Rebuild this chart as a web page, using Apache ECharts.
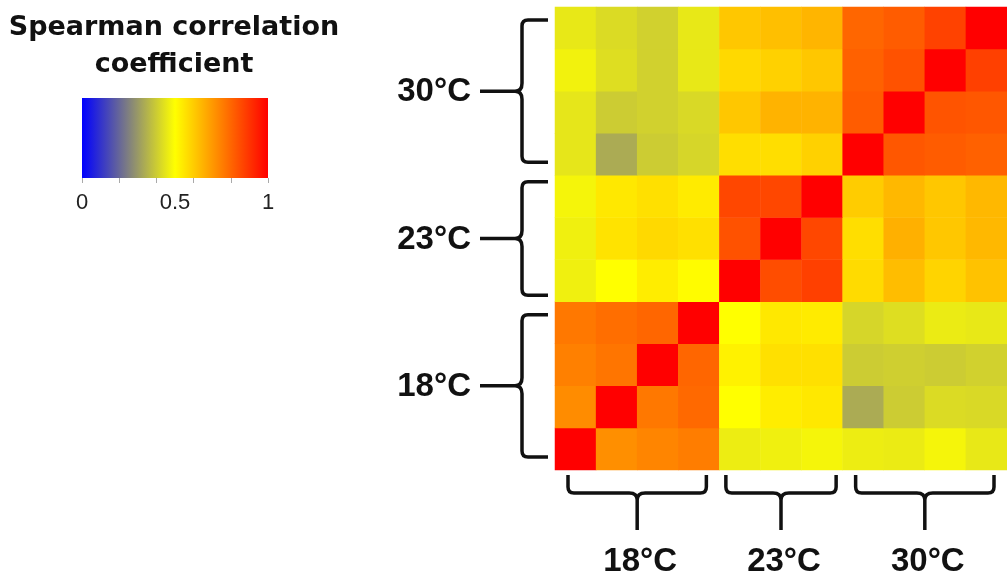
<!DOCTYPE html>
<html><head><meta charset="utf-8">
<script src="https://cdn.jsdelivr.net/npm/echarts@6/dist/echarts.min.js"></script>
<style>html,body{margin:0;padding:0;background:#fff}#c{width:1007px;height:580px}</style>
</head><body><div id="c"></div>
<script>
// ---------- DATA ----------
const groupNames = ['18°C', '23°C', '30°C'];
const groupSizes = [4, 3, 4];
const sampleNames = ['18°C-1','18°C-2','18°C-3','18°C-4','23°C-1','23°C-2','23°C-3','30°C-1','30°C-2','30°C-3','30°C-4'];
// one row per sample (bottom row first), values for columns left -> right
const r18_1 = [1.000, 0.720, 0.740, 0.755, 0.465, 0.470, 0.480, 0.465, 0.460, 0.480, 0.455];
const r18_2 = [0.725, 1.000, 0.765, 0.795, 0.500, 0.535, 0.545, 0.335, 0.400, 0.430, 0.425];
const r18_3 = [0.750, 0.770, 1.000, 0.800, 0.525, 0.560, 0.560, 0.400, 0.405, 0.400, 0.410];
const r18_4 = [0.765, 0.785, 0.800, 1.000, 0.500, 0.545, 0.540, 0.420, 0.435, 0.460, 0.455];
const r23_1 = [0.470, 0.500, 0.535, 0.505, 1.000, 0.850, 0.875, 0.570, 0.630, 0.585, 0.620];
const r23_2 = [0.470, 0.555, 0.575, 0.560, 0.840, 1.000, 0.860, 0.565, 0.655, 0.610, 0.640];
const r23_3 = [0.480, 0.545, 0.560, 0.540, 0.860, 0.860, 1.000, 0.600, 0.640, 0.610, 0.640];
const r30_1 = [0.450, 0.335, 0.400, 0.420, 0.565, 0.565, 0.590, 1.000, 0.830, 0.820, 0.810];
const r30_2 = [0.450, 0.400, 0.410, 0.425, 0.610, 0.650, 0.650, 0.820, 1.000, 0.835, 0.830];
const r30_3 = [0.475, 0.435, 0.410, 0.455, 0.575, 0.590, 0.610, 0.810, 0.840, 1.000, 0.875];
const r30_4 = [0.455, 0.430, 0.410, 0.455, 0.610, 0.625, 0.645, 0.800, 0.820, 0.870, 1.000];
const colorStops = ['#0000ff', '#ffff00', '#ff0000'];
const legendTickInterval = 0.2;
const legendLabelInterval = 0.5;
const legendTitle = 'Spearman correlation\ncoefficient';

// ---------- BUILD ----------
const matrix = [r18_1, r18_2, r18_3, r18_4, r23_1, r23_2, r23_3, r30_1, r30_2, r30_3, r30_4];
const heatData = [];
matrix.forEach((row, y) => row.forEach((v, x) => heatData.push([x, y, v])));

let acc = 0;
const groups = groupNames.map((name, i) => {
  const g = { name, start: acc, end: acc + groupSizes[i] - 1, size: groupSizes[i] };
  acc += groupSizes[i];
  return g;
});

const INK = '#111';
const LW = 3.5;
const LABEL_FONT = 'bold 33px "Liberation Sans", Arial, sans-serif';
const insetFor = s => (s >= 4 ? 13 : 6.5);

function rowBrace(params, api) {
  const g = groups[params.dataIndex];
  const sz = api.size([1, 1]);
  const pS = api.coord([0, g.start]);
  const pE = api.coord([0, g.end]);
  const gl = pS[0] - sz[0] / 2;
  const inset = insetFor(g.size);
  const yB = pS[1] + sz[1] / 2 - inset;
  const yT = pE[1] - sz[1] / 2 + inset;
  const yM = (yB + yT) / 2;
  const xt = gl - 7, x0 = gl - 33, xc = x0 - 7, xl = gl - 75, r = 6, k = 8;
  const d = `M${xt} ${yT} L${x0 + r} ${yT} Q${x0} ${yT} ${x0} ${yT + r} L${x0} ${yM - k} Q${x0} ${yM} ${xc} ${yM} L${xl} ${yM} ` +
            `M${xc} ${yM} Q${x0} ${yM} ${x0} ${yM + k} L${x0} ${yB - r} Q${x0} ${yB} ${x0 + r} ${yB} L${xt} ${yB}`;
  return { type: 'group', children: [
    { type: 'path', shape: { pathData: d }, style: { fill: 'none', stroke: INK, lineWidth: LW, lineJoin: 'round' } },
    { type: 'text', x: gl - 84, y: yM + 1, style: { text: g.name, align: 'right', verticalAlign: 'middle', font: LABEL_FONT, fill: INK } }
  ]};
}

function colBrace(params, api) {
  const g = groups[params.dataIndex];
  const sz = api.size([1, 1]);
  const pS = api.coord([g.start, 0]);
  const pE = api.coord([g.end, 0]);
  const gb = pS[1] + sz[1] / 2;
  const inset = insetFor(g.size);
  const xL = pS[0] - sz[0] / 2 + inset;
  const xR = pE[0] + sz[0] / 2 - inset;
  const xm = (xL + xR) / 2;
  const yt = gb + 5, y0 = gb + 23, ys = gb + 60, r = 6, k = 8;
  const d = `M${xL} ${yt} L${xL} ${y0 - r} Q${xL} ${y0} ${xL + r} ${y0} L${xm - k} ${y0} Q${xm} ${y0} ${xm} ${y0 + 7} L${xm} ${ys} ` +
            `M${xm} ${y0 + 7} Q${xm} ${y0} ${xm + k} ${y0} L${xR - r} ${y0} Q${xR} ${y0} ${xR} ${y0 - r} L${xR} ${yt}`;
  return { type: 'group', children: [
    { type: 'path', shape: { pathData: d }, style: { fill: 'none', stroke: INK, lineWidth: LW, lineJoin: 'round' } },
    { type: 'text', x: xm + 3, y: gb + 92, style: { text: g.name, align: 'center', verticalAlign: 'middle', font: LABEL_FONT, fill: INK } }
  ]};
}

const chart = echarts.init(document.getElementById('c'), null, { renderer: 'canvas' });
chart.setOption({
  animation: false,
  backgroundColor: '#fff',
  grid: [
    { left: 555, top: 7, width: 461, height: 463 },
    { left: 82, top: 98, width: 186, height: 80 }
  ],
  xAxis: [
    { type: 'category', gridIndex: 0, data: sampleNames, show: false },
    { type: 'value', gridIndex: 1, min: 0, max: 1, interval: legendTickInterval, position: 'bottom',
      axisLine: { show: false }, splitLine: { show: false }, axisLabel: { show: false },
      axisTick: { show: true, length: 5, lineStyle: { color: '#aaa', width: 1 } } },
    { type: 'value', gridIndex: 1, min: 0, max: 1, interval: legendLabelInterval, position: 'bottom',
      axisLine: { show: false }, splitLine: { show: false }, axisTick: { show: false },
      axisLabel: { show: true, margin: 14, fontSize: 22, color: '#222', fontFamily: '"Liberation Sans", Arial, sans-serif' } }
  ],
  yAxis: [
    { type: 'category', gridIndex: 0, data: sampleNames, show: false },
    { type: 'category', gridIndex: 1, data: [''], show: false }
  ],
  visualMap: {
    show: false, type: 'continuous', min: 0, max: 1, seriesIndex: 0,
    inRange: { color: colorStops }
  },
  graphic: [
    { type: 'text', x: 174, y: 9, silent: true,
      style: { text: legendTitle, align: 'center', verticalAlign: 'top', lineHeight: 37,
               font: 'bold 27px "DejaVu Sans", sans-serif', fill: INK } }
  ],
  series: [
    { type: 'heatmap', xAxisIndex: 0, yAxisIndex: 0, data: heatData, silent: true,
      itemStyle: { borderWidth: 0 } },
    { type: 'bar', xAxisIndex: 1, yAxisIndex: 1, data: [1], barWidth: '100%', silent: true,
      itemStyle: { color: new echarts.graphic.LinearGradient(0, 0, 1, 0,
        colorStops.map((c, i) => ({ offset: i / (colorStops.length - 1), color: c }))) } },
    { type: 'custom', xAxisIndex: 0, yAxisIndex: 0, renderItem: rowBrace, silent: true, clip: false,
      data: groups.map(g => [0, g.start]) },
    { type: 'custom', xAxisIndex: 0, yAxisIndex: 0, renderItem: colBrace, silent: true, clip: false,
      data: groups.map(g => [g.start, 0]) }
  ]
});
</script>
</body></html>
